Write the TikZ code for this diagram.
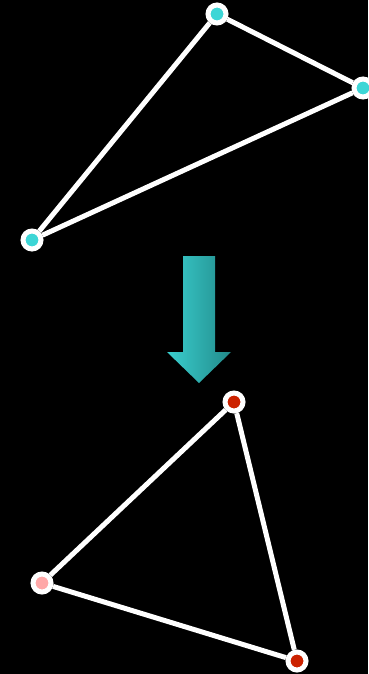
\documentclass[tikz,border=0pt]{standalone}
\usepackage{xcolor}
\usepackage{tikz}
\usetikzlibrary{calc, backgrounds}

\definecolor{dotcyan}{HTML}{3DD6D6}
\definecolor{dotred}{HTML}{CC2200}
\definecolor{dotpink}{HTML}{FFA8A8}
\definecolor{arrowleft}{HTML}{3ACFCF}
\definecolor{arrowright}{HTML}{228A8A}

\tikzset{
  vtx/.style={circle, draw=white, line width=5pt, minimum size=18pt, inner sep=0pt},
  edge/.style={draw=white, line width=5pt}
}

\begin{document}
\begin{tikzpicture}[x=1pt, y=-1pt]

%% ─── Background ─────────────────────────────────────────────
\fill[black] (0,0) rectangle (368,674);
\useasboundingbox (0,0) rectangle (368,674);

%% ─── Top triangle ───────────────────────────────────────────
\node[vtx, fill=dotcyan] (topA) at (217,14) {};
\node[vtx, fill=dotcyan] (topB) at (363,88) {};
\node[vtx, fill=dotcyan] (topC) at (32,240) {};
\draw[edge] (topA) -- (topB);
\draw[edge] (topB) -- (topC);
\draw[edge] (topC) -- (topA);

%% ─── Down arrow ─────────────────────────────────────────────
\shade[left color=arrowleft, right color=arrowright]
  (183,256) -- (215,256) -- (215,352) -- (231,352) -- (199,383)
  -- (167,352) -- (183,352) -- cycle;

%% ─── Bottom triangle ────────────────────────────────────────
\node[vtx, fill=dotred] (botA) at (234,402) {};
\node[vtx, fill=dotpink] (botB) at (42,583) {};
\node[vtx, fill=dotred] (botC) at (297,661) {};
\draw[edge] (botA) -- (botB);
\draw[edge] (botB) -- (botC);
\draw[edge] (botC) -- (botA);

\end{tikzpicture}
\end{document}
